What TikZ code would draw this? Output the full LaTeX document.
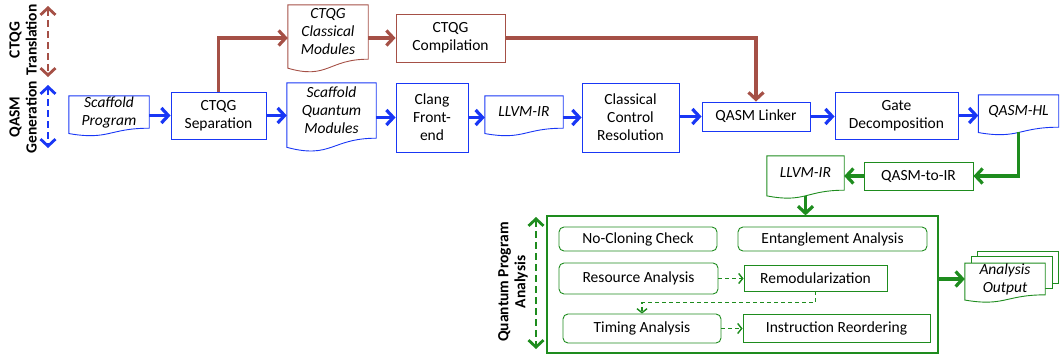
\documentclass[tikz,border=0pt]{standalone}
\usepackage{fontspec}
\setmainfont{Carlito}
\usetikzlibrary{calc,arrows.meta,backgrounds}
\definecolor{qblue}{RGB}{25,55,245}
\definecolor{qbrown}{RGB}{165,80,70}
\definecolor{qgreen}{RGB}{30,140,30}
\newcommand{\docdraw}[2]{\draw [#2] (#1.north west) -- (#1.north east) -- (#1.south east) .. controls (#1.south) and ($(#1.north)!1.38!(#1.south)$) .. ($(#1.north west)!1.165!(#1.south west)$) -- cycle ;}

\begin{document}
\begin{tikzpicture}[x=1pt, y=-1pt, font=\fontsize{15.5}{18}\selectfont,
    >={Straight Barb[length=7pt,width=15pt]},
    box/.style={draw=#1, line width=0.9pt, align=center, inner sep=0pt},
    doc/.style={align=center, inner sep=0pt, font=\fontsize{15.5}{18}\selectfont\itshape},
    task/.style={box=qgreen, rounded corners=5pt},
    flow/.style={line width=3.2pt, ->},
    side/.style={line width=2.8pt, dash pattern=on 7pt off 4pt, <->},
    hop/.style={qgreen, line width=1.4pt, dash pattern=on 4pt off 3pt, -{Straight Barb[length=4pt,width=10pt]}},
    vlab/.style={rotate=90, align=center, font=\fontsize{15.5}{17}\selectfont\bfseries}]
    \useasboundingbox (0,0) rectangle (1060,354) ;

    \node [vlab] (ctqglab) at (23,40) {CTQG\\Translation} ;
    \node [vlab] (qasmlab) at (23,117) {QASM\\Generation} ;
    \node [vlab] (qpalab) at (513,282) {Quantum Program\\Analysis} ;
    \coordinate (ctqg top) at (48,6) ; \coordinate (ctqg bot) at (48,77) ;
    \coordinate (qasm top) at (48,85) ; \coordinate (qasm bot) at (48,148) ;
    \coordinate (qpa top) at (536,217) ; \coordinate (qpa bot) at (536,349) ;
    \draw [side, qbrown] (ctqg top) -- (ctqg bot) ;
    \draw [side, qblue] (qasm top) -- (qasm bot) ;
    \draw [side, qgreen] (qpa top) -- (qpa bot) ;

    \node [doc, minimum width=80, minimum height=32] (prog) at (109,112) {Scaffold\\Program} ;
    \node [box=qblue, minimum width=95, minimum height=47] (sep) at (218.5,115.5) {CTQG\\Separation} ;
    \node [doc, minimum width=80, minimum height=54] (classmod) at (328,32) {CTQG\\Classical\\Modules} ;
    \node [box=qbrown, minimum width=109, minimum height=48] (comp) at (450.5,38) {CTQG\\Compilation} ;
    \node [doc, minimum width=89, minimum height=55] (quantmod) at (331.5,110.5) {Scaffold\\Quantum\\Modules} ;
    \node [box=qblue, minimum width=72, minimum height=69] (clang) at (432,117.5) {Clang\\Front-\\end} ;
    \node [doc, minimum width=78, minimum height=32] (llvm1) at (524,112) {LLVM-IR} ;
    \node [box=qblue, minimum width=97, minimum height=69] (ccr) at (630.5,117.5) {Classical\\Control\\Resolution} ;
    \node [box=qblue, minimum width=108, minimum height=29] (link) at (756,116.5) {QASM Linker} ;
    \node [box=qblue, minimum width=123, minimum height=47] (gate) at (896.5,115.5) {Gate\\Decomposition} ;
    \node [doc, minimum width=80, minimum height=32] (qasmhl) at (1018.5,111) {QASM-HL} ;
    \node [box=qgreen, minimum width=109, minimum height=28] (q2ir) at (918.5,176) {QASM-to-IR} ;
    \node [doc, minimum width=77, minimum height=34] (llvm2) at (805.5,173) {LLVM-IR} ;
    \docdraw{prog}{qblue, line width=0.9pt}
    \docdraw{classmod}{qbrown, line width=0.9pt}
    \docdraw{quantmod}{qblue, line width=0.9pt}
    \docdraw{llvm1}{qblue, line width=0.9pt}
    \docdraw{qasmhl}{qblue, line width=0.9pt}
    \docdraw{llvm2}{qgreen, line width=0.9pt}

    \node [box=qgreen, line width=1.2pt, minimum width=391, minimum height=137] (qpa) at (742.5,284.5) {} ;
    \node [task, minimum width=158, minimum height=24] (noclone) at (638,239) {No-Cloning Check} ;
    \node [task, minimum width=189, minimum height=24] (ent) at (832.5,239) {Entanglement Analysis} ;
    \node [task, minimum width=159, minimum height=31] (res) at (638.5,278.5) {Resource Analysis} ;
    \node [box=qgreen, minimum width=143, minimum height=26] (remod) at (815.5,278) {Remodularization} ;
    \node [task, minimum width=158, minimum height=29] (timing) at (642,328.5) {Timing Analysis} ;
    \node [box=qgreen, minimum width=187, minimum height=28] (instr) at (836.5,328) {Instruction Reordering} ;

    \node [doc, minimum width=80, minimum height=30] (out) at (1005,279) {Analysis\\Output} ;
    \begin{scope}[on background layer]
        \foreach \d in {13,7}
            \draw [qgreen, line width=0.9pt, fill=white] ($(out.north west)+(\d,-0.9*\d)$) rectangle ($(out.south east)+(\d,-0.9*\d)$) ;
        \docdraw{out}{qgreen, line width=0.9pt, fill=white}
    \end{scope}

    \draw [flow, qblue] (prog.east |- sep.west) -- (sep.west) ;
    \draw [flow, qblue] (sep.east) -- (sep.east -| quantmod.west) ;
    \draw [flow, qblue] (quantmod.east |- clang.west) -- (clang.west) ;
    \draw [flow, qblue] (clang.east) -- (clang.east -| llvm1.west) ;
    \draw [flow, qblue] (llvm1.east |- ccr.west) -- (ccr.west) ;
    \draw [flow, qblue] (ccr.east |- link.west) -- (link.west) ;
    \draw [flow, qblue] (link.east) -- (link.east -| gate.west) ;
    \draw [flow, qblue] (gate.east) -- (gate.east -| qasmhl.west) ;

    \draw [flow, qbrown] (sep.north) |- (classmod.west |- comp.west) ;
    \draw [flow, qbrown] (classmod.east |- comp.west) -- (comp.west) ;
    \draw [flow, qbrown] (comp.east) -| (link.north) ;

    \coordinate (qasmhl foot) at ($(qasmhl.north)!1.16!(qasmhl.south)$) ;
    \coordinate (llvm2 foot) at ($(llvm2.north)!1.16!(llvm2.south)$) ;
    \draw [flow, qgreen] (qasmhl foot) |- (q2ir.east) ;
    \draw [flow, qgreen] (q2ir.west) -- (q2ir.west -| llvm2.east) ;
    \draw [flow, qgreen] (llvm2 foot) -- (llvm2 foot |- qpa.north) ;
    \draw [flow, qgreen] (qpa.east |- out.west) -- (out.west) ;

    \draw [hop] (res.east) -- (res.east -| remod.west) ;
    \draw [hop] (remod.south) -- ++(0,11) -| (timing.north) ;
    \draw [hop] (timing.east) -- (timing.east -| instr.west) ;
\end{tikzpicture}
\end{document}
